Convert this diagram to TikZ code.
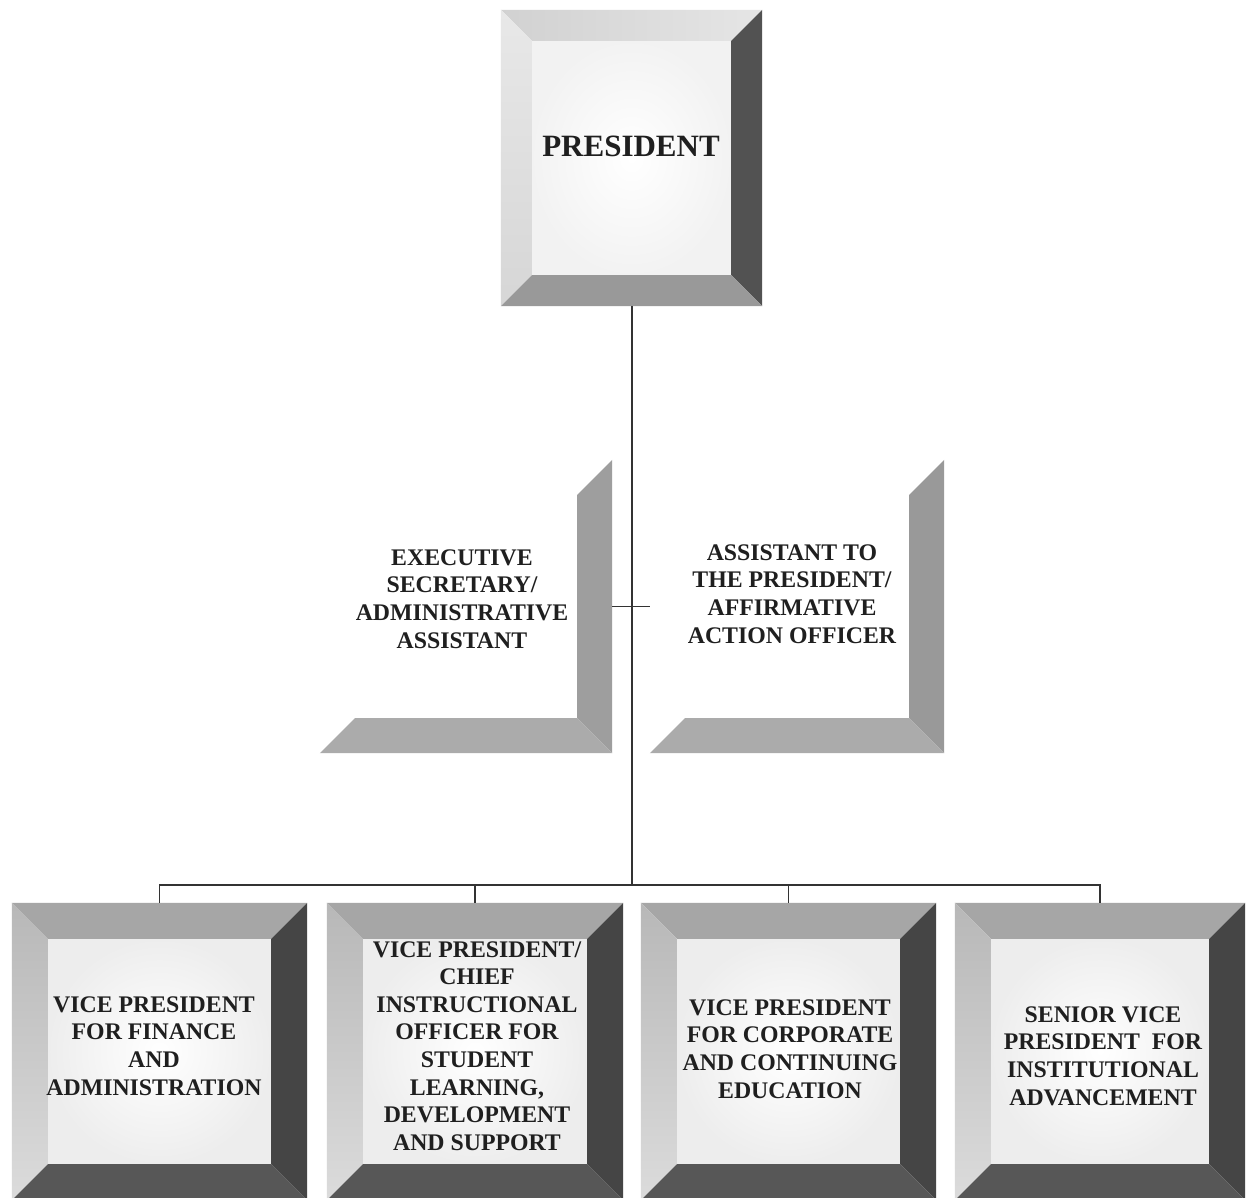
\documentclass[tikz,border=0pt]{standalone}
\usepackage{fontspec}
\setmainfont{Liberation Serif}
\usetikzlibrary{calc}
\pgfdeclarelayer{bg}
\pgfsetlayers{bg,main}
\tikzset{
  boxshape/.style n args={2}{draw=none, inner sep=0pt, minimum width=#1, minimum height=#2},
  lbl/.style={font=\fontsize{23.8}{27.6}\selectfont\bfseries, align=center, text=black!88, inner sep=0pt},
  biglbl/.style={font=\fontsize{31}{36}\selectfont\bfseries, align=center, text=black!88, inner sep=0pt},
  link/.style={line width=1.2pt, draw=black!80},
}
% full bevel: #1 node, #2 bevel, #3 top, #4 left, #5 right, #6 bottom, #7 inner
\newcommand\fullbevel[7]{%
 \begin{pgfonlayer}{bg}
  \path[#7] ($(#1.north west)+(#2,#2)$) rectangle ($(#1.south east)+(-#2,-#2)$);
  \path[#3] (#1.north west) -- (#1.north east) -- ($(#1.north east)+(-#2,#2)$) -- ($(#1.north west)+(#2,#2)$) -- cycle;
  \path[#4] (#1.north west) -- ($(#1.north west)+(#2,#2)$) -- ($(#1.south west)+(#2,-#2)$) -- (#1.south west) -- cycle;
  \path[#5] (#1.north east) -- (#1.south east) -- ($(#1.south east)+(-#2,-#2)$) -- ($(#1.north east)+(-#2,#2)$) -- cycle;
  \path[#6] (#1.south west) -- (#1.south east) -- ($(#1.south east)+(-#2,-#2)$) -- ($(#1.south west)+(#2,-#2)$) -- cycle;
 \end{pgfonlayer}}
% half bevel (right and bottom only)
\newcommand\halfbevel[4]{%
 \begin{pgfonlayer}{bg}
  \path[#3] (#1.north east) -- (#1.south east) -- ($(#1.south east)+(-#2,-#2)$) -- ($(#1.north east)+(-#2,#2)$) -- cycle;
  \path[#4] (#1.south west) -- (#1.south east) -- ($(#1.south east)+(-#2,-#2)$) -- ($(#1.south west)+(#2,-#2)$) -- cycle;
 \end{pgfonlayer}}
\begin{document}
\begin{tikzpicture}[x=1pt,y=-1pt]
\begin{pgfonlayer}{bg}
\fill[white] (0,0) rectangle (1253,1198);
\end{pgfonlayer}
\useasboundingbox (0,0) rectangle (1253,1198);

% boxes
\node[boxshape={261pt}{296pt}] (pres) at (631.5,158) {};
\node[boxshape={292pt}{293pt}] (exec) at (466,606.5) {};
\node[boxshape={294pt}{293pt}] (asst) at (797,606.5) {};
\node[boxshape={295pt}{297pt}] (vp1) at (159.5,1051.5) {};
\node[boxshape={296pt}{297pt}] (vp2) at (475,1051.5) {};
\node[boxshape={295pt}{297pt}] (vp3) at (788.5,1051.5) {};
\node[boxshape={290pt}{297pt}] (vp4) at (1100,1051.5) {};

\fullbevel{pres}{31}{left color=black!18, right color=black!10}{top color=black!9, bottom color=black!16}{fill=black!68}{fill=black!40}{inner color=white, outer color=black!5}
\halfbevel{exec}{35}{fill=black!38}{fill=black!33}
\halfbevel{asst}{35}{fill=black!40}{fill=black!33}
\foreach \n in {vp1,vp2,vp3,vp4}{
  \fullbevel{\n}{36}{fill=black!35}{top color=black!28, bottom color=black!14}{fill=black!73}{fill=black!66}{inner color=white, outer color=black!7}
}

% labels
\node[biglbl] (presT) at (631,146) {PRESIDENT};
\node[lbl] (execT) at (462,599) {EXECUTIVE\\SECRETARY/\\ADMINISTRATIVE\\ASSISTANT};
\node[lbl] (asstT) at (792,594) {ASSISTANT TO\\THE PRESIDENT/\\AFFIRMATIVE\\ACTION OFFICER};
\node[lbl] (vp1T) at (154,1046) {VICE PRESIDENT\\FOR FINANCE\\AND\\ADMINISTRATION};
\node[lbl] (vp2T) at (477,1046) {VICE PRESIDENT/\\CHIEF\\INSTRUCTIONAL\\OFFICER FOR\\STUDENT\\LEARNING,\\DEVELOPMENT\\AND SUPPORT};
\node[lbl] (vp3T) at (790,1049) {VICE PRESIDENT\\FOR CORPORATE\\AND CONTINUING\\EDUCATION};
\node[lbl] (vp4T) at (1103,1056) {SENIOR VICE\\PRESIDENT\ \ FOR\\INSTITUTIONAL\\ADVANCEMENT};

% connectors
\coordinate (hub) at (632,885);
\draw[link] (pres.south -| hub) -- (hub);
\draw[link] (exec.east) -- (asst.west);
\draw[link] (vp1.north) |- (hub) -| (vp4.north);
\draw[link] (vp2.north) -- (vp2.north |- hub);
\draw[link] (vp3.north) -- (vp3.north |- hub);
\end{tikzpicture}
\end{document}
